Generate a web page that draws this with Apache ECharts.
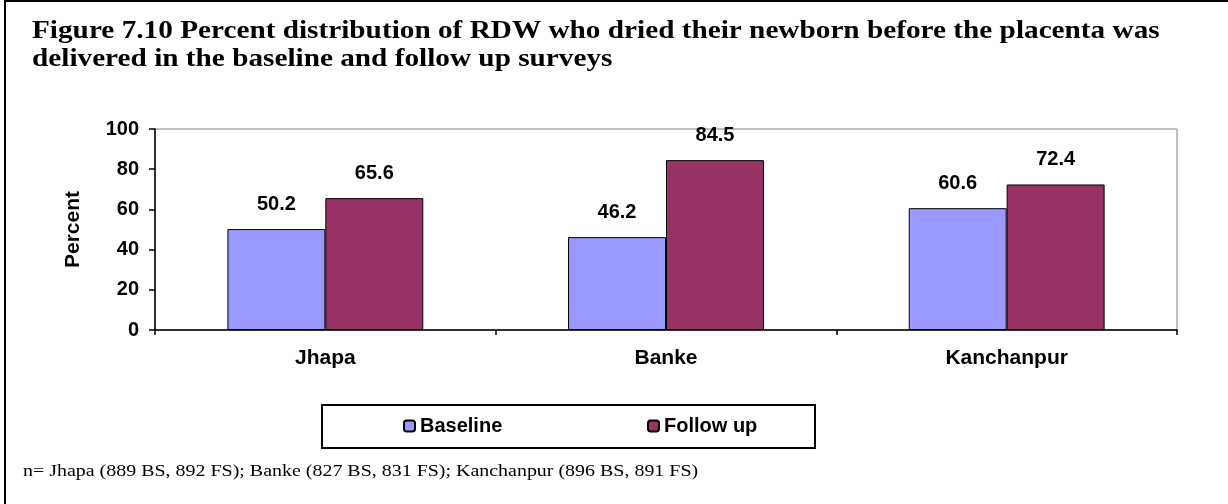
<!DOCTYPE html>
<html>
<head>
	<meta charset="UTF-8">
	<title>Figure 7.10</title>
	<script src="https://cdn.jsdelivr.net/npm/echarts@6/dist/echarts.min.js"></script>
	<style>
		html, body { margin: 0; padding: 0; background: #fff; }
		#main { width: 1228px; height: 504px; }
	</style>
</head>
<body>
<div id="main"></div>
<script>
    // data
    var districts = ['Jhapa', 'Banke', 'Kanchanpur'];
    var baseline = [50.2, 46.2, 60.6];
    var followUp = [65.6, 84.5, 72.4];
    var yTicks = [0, 20, 40, 60, 80, 100];

    var sans = "'Liberation Sans', Arial, sans-serif";
    var serif = "'Liberation Serif', 'Times New Roman', serif";

    var myChart = echarts.init(document.getElementById('main'));
    var option = {
        animation: false,
        graphic: [
            {
                type: 'rect',
                shape: { x: 5, y: 1, width: 1300, height: 600 },
                style: { fill: 'none', stroke: '#000', lineWidth: 2 },
                silent: true
            },
            {
                // title (the source figure is slightly stretched sideways)
                type: 'text',
                x: 32,
                y: 18,
                scaleX: 1.17,
                style: {
                    x: 0,
                    y: 0,
                    text: 'Figure 7.10 Percent distribution of RDW who dried their newborn before the placenta was\ndelivered in the baseline and follow up surveys',
                    font: 'bold 25px ' + serif,
                    lineHeight: 28,
                    verticalAlign: 'top',
                    fill: '#000'
                }
            },
            {
                type: 'rect',
                shape: { x: 322, y: 405, width: 493, height: 43 },
                style: { fill: 'none', stroke: '#000', lineWidth: 2 },
                silent: true
            },
            {
                type: 'text',
                x: 23,
                y: 462,
                scaleX: 1.14,
                style: {
                    x: 0,
                    y: 0,
                    text: 'n= Jhapa (889 BS, 892 FS); Banke (827 BS, 831 FS); Kanchanpur (896 BS, 891 FS)',
                    font: '17.5px ' + serif,
                    verticalAlign: 'top',
                    fill: '#000'
                }
            }
        ],
        legend: [
            {
                data: ['Baseline'],
                left: 403,
                top: 416,
                padding: 0,
                itemWidth: 11,
                itemHeight: 11,
                textStyle: { fontFamily: sans, fontWeight: 'bold', fontSize: 20, color: '#000' }
            },
            {
                data: ['Follow up'],
                left: 647,
                top: 416,
                padding: 0,
                itemWidth: 11,
                itemHeight: 11,
                textStyle: { fontFamily: sans, fontWeight: 'bold', fontSize: 20, color: '#000' }
            }
        ],
        grid: {
            left: 155,
            right: 51,
            top: 129,
            bottom: 174,
            show: true,
            borderColor: '#808080',
            borderWidth: 1
        },
        xAxis: {
            type: 'category',
            data: districts,
            axisLine: { lineStyle: { color: '#000', width: 1.5 } },
            axisTick: { show: true, length: 5, lineStyle: { color: '#000', width: 1.5 } },
            axisLabel: {
                margin: 18,
                fontFamily: sans,
                fontWeight: 'bold',
                fontSize: 21,
                color: '#000'
            }
        },
        yAxis: {
            type: 'value',
            min: yTicks[0],
            max: yTicks[yTicks.length - 1],
            interval: 20,
            name: 'Percent',
            nameLocation: 'middle',
            nameGap: 71,
            nameTextStyle: {
                fontFamily: sans,
                fontWeight: 'bold',
                fontSize: 21,
                color: '#000'
            },
            splitLine: { show: false },
            axisLine: { show: true, lineStyle: { color: '#000', width: 1.5 } },
            axisTick: { show: true, length: 6, lineStyle: { color: '#000', width: 1.5 } },
            axisLabel: {
                margin: 16,
                fontFamily: sans,
                fontWeight: 'bold',
                fontSize: 20,
                color: '#000'
            }
        },
        series: [
            {
                name: 'Baseline',
                type: 'bar',
                data: baseline,
                barGap: 0,
                barCategoryGap: '42.5%',
                itemStyle: { color: '#9999FF', borderColor: '#000', borderWidth: 1 },
                label: {
                    show: true,
                    position: 'top',
                    distance: 15,
                    fontFamily: sans,
                    fontWeight: 'bold',
                    fontSize: 20,
                    color: '#000'
                }
            },
            {
                name: 'Follow up',
                type: 'bar',
                data: followUp,
                barGap: 0,
                barCategoryGap: '42.5%',
                itemStyle: { color: '#993366', borderColor: '#000', borderWidth: 1 },
                label: {
                    show: true,
                    position: 'top',
                    distance: 15,
                    fontFamily: sans,
                    fontWeight: 'bold',
                    fontSize: 20,
                    color: '#000'
                }
            }
        ]
    };
    myChart.setOption(option);
</script>
</body>
</html>
